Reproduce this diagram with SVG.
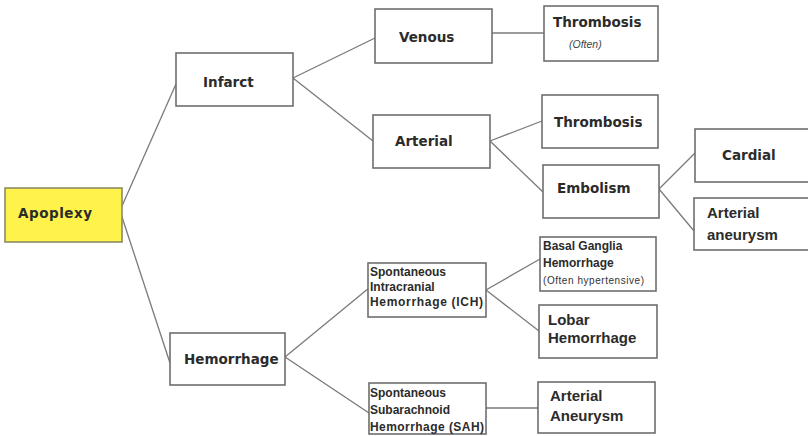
<svg xmlns="http://www.w3.org/2000/svg" width="808" height="436" viewBox="0 0 808 436">
<style>
.box{fill:#ffffff;stroke:#6e6e6e;stroke-width:1.6}
.apo{fill:#fff24a;stroke:#8c8a66;stroke-width:1.6}
.big{font-family:"DejaVu Sans",sans-serif;font-weight:bold;font-size:13.5px;fill:#2b2b2b}
.mid{font-family:"Liberation Sans",Arial,sans-serif;font-weight:bold;font-size:15px;fill:#2b2b2b}
.sm{font-family:"Liberation Sans",Arial,sans-serif;font-weight:bold;font-size:12px;fill:#2b2b2b}
.tiny{font-family:"Liberation Sans",Arial,sans-serif;font-size:10px;fill:#333}
.it{font-family:"Liberation Sans",Arial,sans-serif;font-style:italic;font-size:10.5px;fill:#444}
.conn line{stroke:#7a7a7a;stroke-width:1.3}
</style>
<rect width="808" height="436" fill="#ffffff"/>
<g class="conn" id="connectors">
<line x1="122" y1="206" x2="176" y2="84"/>
<line x1="122" y1="217" x2="170" y2="363"/>
<line x1="293" y1="78" x2="375" y2="38"/>
<line x1="293" y1="78" x2="373" y2="141"/>
<line x1="492" y1="33" x2="544" y2="33"/>
<line x1="490" y1="141" x2="542" y2="121"/>
<line x1="490" y1="141" x2="543" y2="192"/>
<line x1="659" y1="189" x2="695" y2="153"/>
<line x1="659" y1="189" x2="694" y2="231"/>
<line x1="285" y1="357" x2="369" y2="288"/>
<line x1="285" y1="357" x2="369" y2="413"/>
<line x1="486" y1="290" x2="540" y2="259"/>
<line x1="486" y1="290" x2="539" y2="331"/>
<line x1="486" y1="408" x2="538" y2="408"/>
</g>
<g id="apoplexy">
<rect class="apo" x="5" y="188" width="117" height="54"/>
<text class="big" x="18" y="218" textLength="74">Apoplexy</text>
</g>
<g id="infarct">
<rect class="box" x="176" y="53" width="117" height="53"/>
<text class="big" x="203" y="87">Infarct</text>
</g>
<g id="venous">
<rect class="box" x="375" y="9" width="117" height="54"/>
<text class="big" x="399" y="42">Venous</text>
</g>
<g id="thrombosis-venous">
<rect class="box" x="544" y="6" width="114" height="55"/>
<text class="big" x="553" y="27">Thrombosis</text>
<text class="it" x="569" y="48">(Often)</text>
</g>
<g id="arterial">
<rect class="box" x="373" y="115" width="117" height="53"/>
<text class="big" x="395" y="146">Arterial</text>
</g>
<g id="thrombosis-arterial">
<rect class="box" x="542" y="95" width="116" height="53"/>
<text class="big" x="554" y="127">Thrombosis</text>
</g>
<g id="embolism">
<rect class="box" x="543" y="165" width="116" height="53"/>
<text class="big" x="557" y="193">Embolism</text>
</g>
<g id="cardial">
<rect class="box" x="695" y="129" width="118" height="53"/>
<text class="big" x="722" y="160">Cardial</text>
</g>
<g id="arterial-aneurysm-embolic">
<rect class="box" x="694" y="198" width="119" height="52"/>
<text class="mid" x="707" y="218">Arterial</text>
<text class="mid" x="707" y="240">aneurysm</text>
</g>
<g id="hemorrhage">
<rect class="box" x="170" y="333" width="115" height="52"/>
<text class="big" x="184" y="364">Hemorrhage</text>
</g>
<g id="ich">
<rect class="box" x="368" y="263" width="118" height="54"/>
<text class="sm" x="370" y="276">Spontaneous</text>
<text class="sm" x="370" y="291">Intracranial</text>
<text class="sm" x="370" y="306" textLength="113">Hemorrhage (ICH)</text>
</g>
<g id="basal-ganglia">
<rect class="box" x="540" y="237" width="116" height="54"/>
<text class="sm" x="543" y="250">Basal Ganglia</text>
<text class="sm" x="543" y="267">Hemorrhage</text>
<text class="tiny" x="543" y="284" textLength="101">(Often hypertensive)</text>
</g>
<g id="lobar">
<rect class="box" x="539" y="305" width="118" height="53"/>
<text class="mid" x="548" y="325">Lobar</text>
<text class="mid" x="548" y="343">Hemorrhage</text>
</g>
<g id="sah">
<rect class="box" x="369" y="383" width="117" height="51"/>
<text class="sm" x="370" y="397">Spontaneous</text>
<text class="sm" x="370" y="414">Subarachnoid</text>
<text class="sm" x="370" y="431" textLength="114">Hemorrhage (SAH)</text>
</g>
<g id="arterial-aneurysm-sah">
<rect class="box" x="538" y="382" width="117" height="51"/>
<text class="mid" x="550" y="401">Arterial</text>
<text class="mid" x="550" y="421">Aneurysm</text>
</g>
</svg>
